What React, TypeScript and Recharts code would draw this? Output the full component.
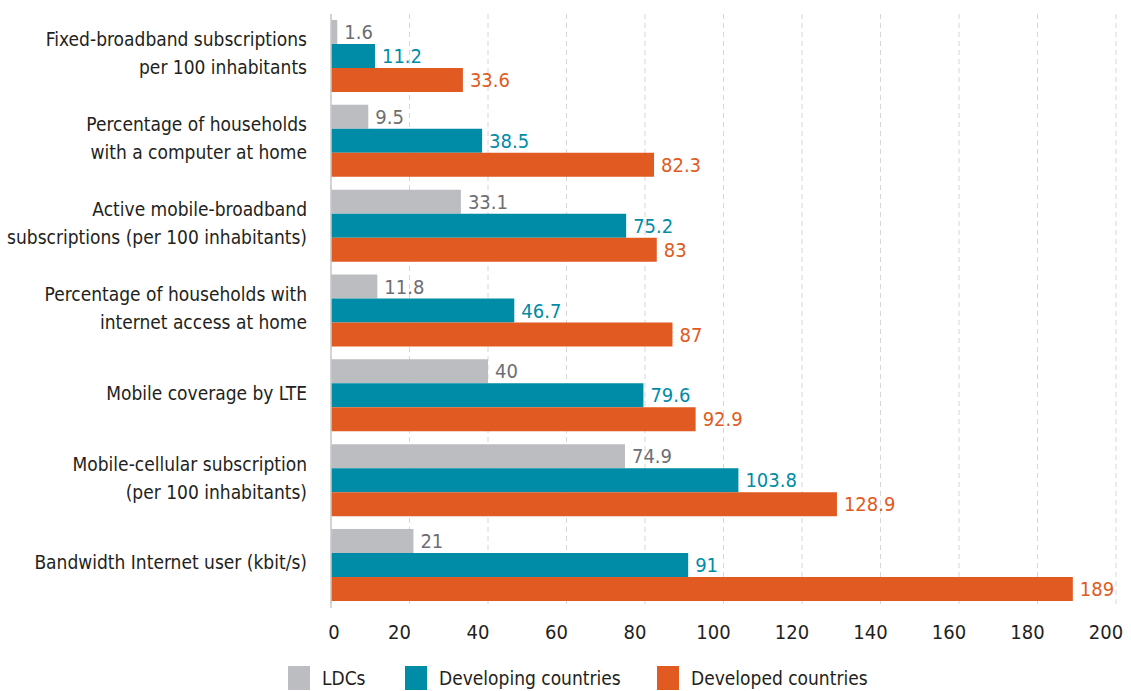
import React from "react";
import {
  BarChart,
  Bar,
  XAxis,
  YAxis,
  CartesianGrid,
  LabelList,
  Legend,
} from "recharts";

// Indicator names ("|" marks a line break in the axis label)
const categories = [
  "Fixed-broadband subscriptions|per 100 inhabitants",
  "Percentage of households|with a computer at home",
  "Active mobile-broadband|subscriptions (per 100 inhabitants)",
  "Percentage of households with|internet access at home",
  "Mobile coverage by LTE",
  "Mobile-cellular subscription|(per 100 inhabitants)",
  "Bandwidth Internet user (kbit/s)",
];

const ldcs = [1.6, 9.5, 33.1, 11.8, 40, 74.9, 21];
const developing = [11.2, 38.5, 75.2, 46.7, 79.6, 103.8, 91];
const developed = [33.6, 82.3, 83, 87, 92.9, 128.9, 189];

const xTicks = [0, 20, 40, 60, 80, 100, 120, 140, 160, 180, 200];

const FONT = "'DejaVu Sans', sans-serif";
const textStyle = { fontStretch: "condensed" as const };

const colors = {
  ldcs: "#bcbdc0",
  developing: "#008ca6",
  developed: "#e05a21",
  ldcsText: "#6d6e71",
  text: "#231f20",
};

const series = [
  { key: "ldcs", name: "LDCs", fill: colors.ldcs, label: colors.ldcsText },
  { key: "developing", name: "Developing countries", fill: colors.developing, label: colors.developing },
  { key: "developed", name: "Developed countries", fill: colors.developed, label: colors.developed },
];

const data = categories.map((c, i) => ({
  name: c,
  ldcs: ldcs[i],
  developing: developing[i],
  developed: developed[i],
}));

const CategoryTick = (props: any) => {
  const { x, y, payload } = props;
  const lines = String(payload.value).split("|");
  const lh = 28;
  const start = -3 - ((lines.length - 1) * lh) / 2;
  return (
    <text
      x={x}
      y={y}
      textAnchor="end"
      fontFamily={FONT}
      fontSize={19}
      fill={colors.text}
      style={textStyle}
    >
      {lines.map((l, i) => (
        <tspan key={i} x={x} y={y + start + i * lh} dy="0.36em">
          {l}
        </tspan>
      ))}
    </text>
  );
};

// value ticks sit a little left of the gridlines in the source
const ValueTick = (props: any) => {
  const { x, y, payload } = props;
  return (
    <text
      x={x + (payload.value === 0 ? 3 : -10)}
      y={y}
      dy="0.71em"
      textAnchor="middle"
      fontFamily={FONT}
      fontSize={20}
      fill={colors.text}
      style={textStyle}
    >
      {payload.value}
    </text>
  );
};

const legendPos = [288, 405, 657];

const CustomLegend = () => (
  <div style={{ position: "relative", height: 40, width: 1131, fontFamily: FONT, fontStretch: "condensed" }}>
    {series.map((s, i) => (
      <div
        key={s.key}
        style={{
          position: "absolute",
          left: legendPos[i],
          top: 15,
          display: "flex",
          alignItems: "center",
          fontSize: 19,
          color: colors.text,
          whiteSpace: "nowrap",
        }}
      >
        <span
          style={{
            display: "inline-block",
            width: 22,
            height: 24,
            background: s.fill,
            marginRight: 12,
          }}
        />
        {s.name}
      </div>
    ))}
  </div>
);

export default function App() {
  return (
    <div style={{ position: "absolute", left: 0, top: 0, background: "#fff" }}>
      <BarChart
        width={1131}
        height={691}
        data={data}
        layout="vertical"
        margin={{ top: 14, right: 15, bottom: 0, left: 0 }}
        barCategoryGap="7%"
        barGap={0}
      >
        <CartesianGrid
          horizontal={false}
          vertical
          stroke="#d6d6d6"
          strokeDasharray="5 4"
        />
        <XAxis
          type="number"
          domain={[0, 200]}
          ticks={xTicks}
          interval={0}
          axisLine={false}
          tickLine={false}
          tickMargin={11}
          height={43}
          tick={<ValueTick />}
        />
        <YAxis
          type="category"
          dataKey="name"
          width={331}
          axisLine={{ stroke: "#c8c8c8", strokeWidth: 1.5 }}
          tickLine={false}
          tickMargin={18}
          tick={<CategoryTick />}
          interval={0}
        />
        <Legend verticalAlign="bottom" height={40} content={<CustomLegend />} />
        {series.map((s) => (
          <Bar
            key={s.key}
            dataKey={s.key}
            name={s.name}
            fill={s.fill}
            isAnimationActive={false}
          >
            <LabelList
              dataKey={s.key}
              position="right"
              offset={7}
              fill={s.label}
              fontSize={20}
              fontFamily={FONT}
              style={textStyle}
            />
          </Bar>
        ))}
      </BarChart>
    </div>
  );
}
